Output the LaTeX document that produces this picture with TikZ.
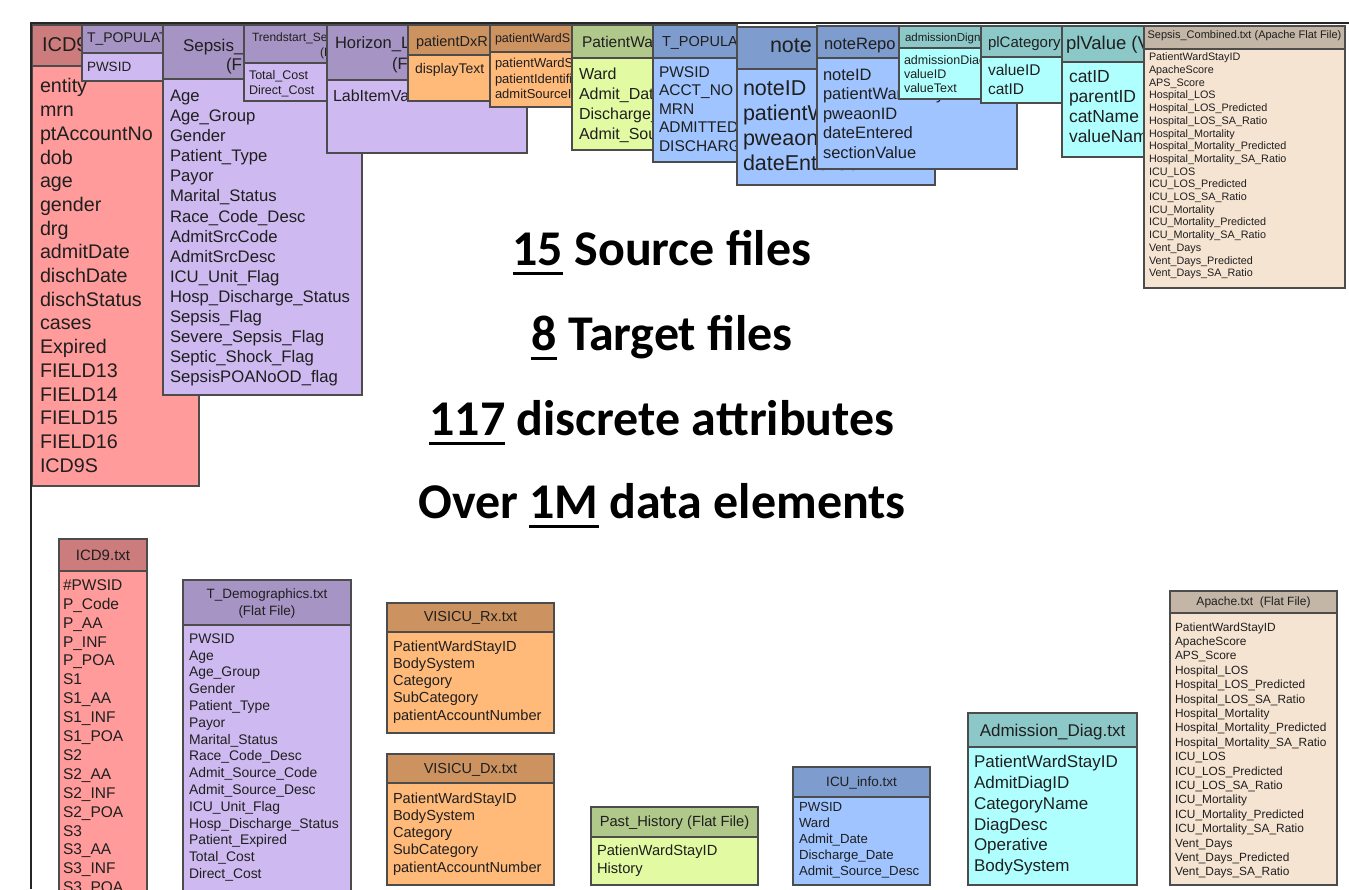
\documentclass[tikz,border=0pt]{standalone}
\usepackage{fontspec}
\setmainfont{Liberation Sans}
\newfontfamily\calib{Carlito}
\definecolor{redH}{RGB}{204,124,124}
\definecolor{redB}{RGB}{255,155,155}
\definecolor{purH}{RGB}{166,148,196}
\definecolor{purB}{RGB}{206,186,240}
\definecolor{oraH}{RGB}{204,146,96}
\definecolor{oraB}{RGB}{255,186,122}
\definecolor{grnH}{RGB}{176,200,138}
\definecolor{grnB}{RGB}{226,250,162}
\definecolor{bluH}{RGB}{126,156,206}
\definecolor{bluB}{RGB}{160,196,255}
\definecolor{cyaH}{RGB}{140,200,200}
\definecolor{cyaB}{RGB}{176,255,255}
\definecolor{tanH}{RGB}{196,182,166}
\definecolor{tanB}{RGB}{246,228,210}
\newcommand\fs[2]{\fontsize{#1}{#2}\selectfont}
\newsavebox\ulbox
\newcommand\myul[1]{\sbox\ulbox{#1}\rlap{\rule[-9.5pt]{\wd\ulbox}{3pt}}\usebox{\ulbox}}
\tikzset{
 tb/.style={draw=black!70, line width=1.4pt, anchor=north west, inner sep=0pt, outer sep=0pt, rectangle},
 tx/.style={anchor=north west, inner sep=0pt, outer sep=0pt, align=left, text=black!88},
 th/.style={anchor=north, inner sep=0pt, outer sep=0pt, align=center, text=black!88},
 big/.style={anchor=base, inner sep=0pt, outer sep=0pt, font=\calib\bfseries\fontsize{50}{60}\selectfont},
 frame/.style={draw=black!85, line width=2pt},
}
% name, x, y, width, header height, total height, colour
\newcommand\tbl[7]{%
  \node[tb,fill=#7B,minimum width=#4pt,minimum height=#6pt] (#1) at (#2,#3) {};
  \node[tb,fill=#7H,minimum width=#4pt,minimum height=#5pt] (#1h) at (#2,#3) {};
  \begin{scope}
  \clip ([xshift=.7pt,yshift=-.7pt]#1.north west) rectangle ([xshift=-.7pt,yshift=.7pt]#1.south east);}
\newcommand\tblend{\end{scope}}
\newcommand\apachelist{PatientWardStayID\\ApacheScore\\APS\_Score\\Hospital\_LOS\\Hospital\_LOS\_Predicted\\Hospital\_LOS\_SA\_Ratio\\Hospital\_Mortality\\Hospital\_Mortality\_Predicted\\Hospital\_Mortality\_SA\_Ratio\\ICU\_LOS\\ICU\_LOS\_Predicted\\ICU\_LOS\_SA\_Ratio\\ICU\_Mortality\\ICU\_Mortality\_Predicted\\ICU\_Mortality\_SA\_Ratio\\Vent\_Days\\Vent\_Days\_Predicted\\Vent\_Days\_SA\_Ratio}
\begin{document}
\begin{tikzpicture}[x=1pt,y=-1pt]
\useasboundingbox (0,0) rectangle (1349,889);
\clip (0,0) rectangle (1349,889);
% ---------------- top row (source tables, overlapping) ----------------
\tbl{icdA}{32}{25}{167}{41}{461}{red}
 \node[tx,font=\fs{20}{24}] (icdAh) at (42,37.6) {ICD9};
 \node[tx,font=\fs{19.7}{23.7}] (icdAt) at (40,78.7) {entity\\mrn\\ptAccountNo\\dob\\age\\gender\\drg\\admitDate\\dischDate\\dischStatus\\cases\\Expired\\FIELD13\\FIELD14\\FIELD15\\FIELD16\\ICD9S};
\tblend
\tbl{tpopA}{82}{25}{81}{28}{56}{pur}
 \node[tx,font=\fs{14}{17}] (tpopAh) at (87,33) {T\_POPULAT};
 \node[tx,font=\fs{13.5}{16}] (tpopAt) at (87,62.2) {PWSID};
\tblend
\tbl{sepA}{163}{25}{199}{54}{370}{pur}
 \node[tx,font=\fs{17}{20}] (sepAh1) at (183,38.9) {Sepsis\_};
 \node[tx,font=\fs{17}{20}] (sepAh2) at (226,57.9) {(F};
 \node[tx,font=\fs{16.7}{20.1}] (sepAt) at (170,90) {Age\\Age\_Group\\Gender\\Patient\_Type\\Payor\\Marital\_Status\\Race\_Code\_Desc\\AdmitSrcCode\\AdmitSrcDesc\\ICU\_Unit\_Flag\\Hosp\_Discharge\_Status\\Sepsis\_Flag\\Severe\_Sepsis\_Flag\\Septic\_Shock\_Flag\\SepsisPOANoOD\_flag};
\tblend
\tbl{trend}{244}{25}{83}{38}{76}{pur}
 \node[tx,font=\fs{12}{15}] (trendh1) at (252,32.7) {Trendstart\_Se};
 \node[tx,font=\fs{12}{15}] (trendh2) at (320,47.7) {(F};
 \node[tx,font=\fs{12.5}{15}] (trendt) at (249,70.5) {Total\_Cost\\Direct\_Cost};
\tblend
\tbl{horiz}{327}{25}{200}{55}{128}{pur}
 \node[tx,font=\fs{16.5}{20}] (horizh1) at (335,36.1) {Horizon\_L};
 \node[tx,font=\fs{16.5}{20}] (horizh2) at (392,57.1) {(F};
 \node[tx,font=\fs{16}{20}] (horizt) at (333,90.2) {LabItemVa};
\tblend
\tbl{pdx}{408}{25}{82}{30}{76}{ora}
 \node[tx,font=\fs{14.5}{17}] (pdxh) at (416,35.8) {patientDxR};
 \node[tx,font=\fs{14}{17}] (pdxt) at (415,63.8) {displayText};
\tblend
\tbl{pws}{490}{25}{82}{27}{82}{ora}
 \node[tx,font=\fs{12.5}{15}] (pwsh) at (495,33.5) {patientWardS};
 \node[tx,font=\fs{13}{15.5}] (pwst) at (495,58.2) {patientWardStayID\\patientIdentifier\\admitSourceID};
\tblend
\tbl{pwa}{572}{25}{81}{33}{125}{grn}
 \node[tx,font=\fs{15.5}{19}] (pwah) at (582,36.5) {PatientWa};
 \node[tx,font=\fs{16}{20}] (pwat) at (579,68.1) {Ward\\Admit\_Dat\\Discharge\_\\Admit\_Sou};
\tblend
\tbl{tpopB}{653}{25}{84}{33}{137}{blu}
 \node[tx,font=\fs{14.5}{18}] (tpopBh) at (662,36.8) {T\_POPULA};
 \node[tx,font=\fs{15.5}{18.5}] (tpopBt) at (659,66.5) {PWSID\\ACCT\_NO\\MRN\\ADMITTED\\DISCHARG};
\tblend
\tbl{note}{737}{27}{198}{42}{158}{blu}
 \node[tx,font=\fs{21.5}{25}] (noteh) at (770,38.2) {note};
 \node[tx,font=\fs{21.5}{25}] (notet) at (743,80.6) {noteID\\patientW\\pweaon\\dateEntered};
\tblend
\tbl{nrep}{817}{26}{200}{32}{143}{blu}
 \node[tx,font=\fs{16.5}{19.5}] (nreph) at (824,38) {noteRepo};
 \node[tx,font=\fs{16.5}{19.5}] (nrept) at (823,69) {noteID\\patientWardStayID\\pweaonID\\dateEntered\\sectionValue};
\tblend
\tbl{adg}{899}{26}{82}{22}{73}{cya}
 \node[tx,font=\fs{11.5}{14}] (adgh) at (905,33) {admissionDign};
 \node[tx,font=\fs{12.5}{14}] (adgt) at (904,55.5) {admissionDiagID\\valueID\\valueText};
\tblend
\tbl{plc}{981}{26}{81}{31}{77}{cya}
 \node[tx,font=\fs{15}{19}] (plch) at (988,36.5) {plCategory};
 \node[tx,font=\fs{15.5}{19}] (plct) at (988,64.5) {valueID\\catID};
\tblend
\tbl{plv}{1062}{26}{100}{36}{131}{cya}
 \node[tx,font=\fs{18.5}{22}] (plvh) at (1066,36.5) {plValue (V};
 \node[tx,font=\fs{17.5}{20}] (plvt) at (1069,70.5) {catID\\parentID\\catName\\valueNam};
\tblend
\tbl{sepC}{1144}{26}{201}{23}{262}{tan}
 \node[th,font=\fs{11}{13}] (sepCh) at (1244.5,31) {Sepsis\_Combined.txt (Apache Flat File)};
 \node[tx,font=\fs{10.8}{12.7}] (sepCt) at (1149,53) {\apachelist};
\tblend
% ---------------- bottom row (target files) ----------------
\tbl{icdB}{59}{539}{88}{32}{361}{red}
 \node[th,font=\fs{15}{18}] (icdBh) at (103,550.5) {ICD9.txt};
 \node[tx,font=\fs{15.5}{18.9}] (icdBt) at (63,579.5) {\#PWSID\\P\_Code\\P\_AA\\P\_INF\\P\_POA\\S1\\S1\_AA\\S1\_INF\\S1\_POA\\S2\\S2\_AA\\S2\_INF\\S2\_POA\\S3\\S3\_AA\\S3\_INF\\S3\_POA};
\tblend
\tbl{demo}{183}{580}{168}{45}{320}{pur}
 \node[th,font=\fs{13.5}{17}] (demoh) at (267,588.5) {T\_Demographics.txt\\(Flat File)};
 \node[tx,font=\fs{13.9}{16.8}] (demot) at (189,633.5) {PWSID\\Age\\Age\_Group\\Gender\\Patient\_Type\\Payor\\Marital\_Status\\Race\_Code\_Desc\\Admit\_Source\_Code\\Admit\_Source\_Desc\\ICU\_Unit\_Flag\\Hosp\_Discharge\_Status\\Patient\_Expired\\Total\_Cost\\Direct\_Cost};
\tblend
\tbl{vrx}{387}{603}{167}{29}{130}{ora}
 \node[th,font=\fs{14.5}{17}] (vrxh) at (470.5,611.5) {VISICU\_Rx.txt};
 \node[tx,font=\fs{14.6}{17.3}] (vrxt) at (393,640.5) {PatientWardStayID\\BodySystem\\Category\\SubCategory\\patientAccountNumber};
\tblend
\tbl{vdx}{387}{754}{167}{29}{131}{ora}
 \node[th,font=\fs{14.5}{17}] (vdxh) at (470.5,763) {VISICU\_Dx.txt};
 \node[tx,font=\fs{14.6}{17.3}] (vdxt) at (393,792.5) {PatientWardStayID\\BodySystem\\Category\\SubCategory\\patientAccountNumber};
\tblend
\tbl{past}{591}{807}{167}{30}{78}{grn}
 \node[th,font=\fs{14.7}{17}] (pasth) at (674.5,816) {Past\_History (Flat File)};
 \node[tx,font=\fs{14.7}{18}] (pastt) at (597,845) {PatienWardStayID\\History};
\tblend
\tbl{icu}{793}{767}{137}{30}{118}{blu}
 \node[th,font=\fs{13.5}{16}] (icuh) at (861.5,776.5) {ICU\_info.txt};
 \node[tx,font=\fs{13.2}{15.9}] (icut) at (799,802.5) {PWSID\\Ward\\Admit\_Date\\Discharge\_Date\\Admit\_Source\_Desc};
\tblend
\tbl{adm}{968}{713}{169}{34}{172}{cya}
 \node[th,font=\fs{17}{20}] (admh) at (1052.5,724) {Admission\_Diag.txt};
 \node[tx,font=\fs{17}{20.9}] (admt) at (974,755) {PatientWardStayID\\AdmitDiagID\\CategoryName\\DiagDesc\\Operative\\BodySystem};
\tblend
\tbl{apa}{1170}{591}{167}{22}{294}{tan}
 \node[th,font=\fs{12}{14}] (apah) at (1253.5,596.5) {Apache.txt\ \ (Flat File)};
 \node[tx,font=\fs{11.9}{14.4}] (apat) at (1175,622.5) {\apachelist};
\tblend
% ---------------- centre statement ----------------
\node[big] (s1) at (662,265) {\myul{15} Source files};
\node[big] (s2) at (662,350) {\myul{8} Target files};
\node[big] (s3) at (662,435) {\myul{117} discrete attributes};
\node[big] (s4) at (662,518) {Over \myul{1M} data elements};
% ---------------- frame ----------------
\coordinate (fTL) at (31,23);
\coordinate (fTR) at (1349,23);
\coordinate (fBL) at (31,889);
\draw[frame] (fBL) -- (fTL) -- (fTR);
\end{tikzpicture}
\end{document}
